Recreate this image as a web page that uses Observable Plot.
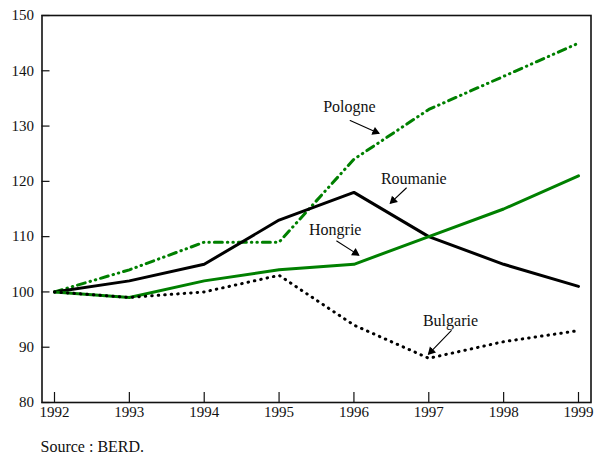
<!DOCTYPE html>
<html><head><meta charset="utf-8">
<script src="https://cdn.jsdelivr.net/npm/d3@7"></script>
<script src="https://cdn.jsdelivr.net/npm/@observablehq/plot@0.6"></script>
<style>
body{margin:0;background:#fff}
svg{display:block}
svg, svg text, svg g{font-family:'Liberation Serif','DejaVu Serif','Times New Roman',serif !important;}
</style>
</head><body><div id="chart"></div>
<script>
const years = [1992, 1993, 1994, 1995, 1996, 1997, 1998, 1999];
const pologne  = [100, 104, 109, 109, 124, 133, 139, 145];
const roumanie = [100, 102, 105, 113, 118, 110, 105, 101];
const hongrie  = [100,  99, 102, 104, 105, 110, 115, 121];
const bulgarie = [100,  99, 100, 103,  94,  88,  91,  93];
const yTicks = [80, 90, 100, 110, 120, 130, 140, 150];
const caption = "Source : BERD.";

const labelNames = ["Pologne", "Roumanie", "Hongrie", "Bulgarie"];
const labelX = [1995.94, 1996.80, 1995.75, 1997.29];
const labelY = [133.4, 120.4, 111.2, 94.8];
const arrowX1 = [1995.95, 1996.70, 1995.77, 1997.30];
const arrowY1 = [131.0, 118.8, 109.2, 93.0];
const arrowX2 = [1996.33, 1996.49, 1996.06, 1997.00];
const arrowY2 = [128.7, 116.1, 106.7, 88.8];

const W = 594, H = 454, mT = 15, mB = 52, mL = 41.5, mR = 3.5;
const plotW = W - mL - mR, plotH = H - mT - mB;
const xDomain = [1991.833, 1999.167], yDomain = [80, 150];
const kx = plotW / (xDomain[1] - xDomain[0]);
const ky = plotH / (yDomain[1] - yDomain[0]);
const green = "#008000";
const serif = "'Liberation Serif', 'DejaVu Serif', serif";

const series = (vals) => years.map((y, i) => ({year: y, value: vals[i]}));
const labels = labelNames.map((n, i) => ({name: n, x: labelX[i], y: labelY[i]}));
const arrows = labelNames.map((n, i) => ({x1: arrowX1[i], y1: arrowY1[i], x2: arrowX2[i], y2: arrowY2[i]}));
// filled arrow heads: triangle placed just behind each tip, rotated along the arrow
const heads = arrows.map(a => {
  const dx = (a.x2 - a.x1) * kx, dy = -(a.y2 - a.y1) * ky;
  const len = Math.hypot(dx, dy), back = 3.5;
  return {
    x: a.x2 - (dx / len) * back / kx,
    y: a.y2 + (dy / len) * back / ky,
    angle: Math.atan2(dx, -dy) * 180 / Math.PI
  };
});

const chart = Plot.plot({
  width: W, height: H,
  marginTop: mT, marginBottom: mB, marginLeft: mL, marginRight: mR,
  style: {fontFamily: serif, fontSize: "15px", background: "white", color: "#111"},
  x: {domain: xDomain},
  y: {domain: yDomain},
  marks: [
    Plot.axisY(yTicks, {tickSize: 0, tickPadding: 8, tickFormat: d => d, label: null, fontSize: 15, fontFamily: serif}),
    Plot.axisX(years, {tickSize: 0, tickPadding: 4, tickFormat: d => String(d), label: null, fontSize: 15, fontFamily: serif}),
    Plot.tickY(yTicks, {y: d => d, insetRight: plotW - 8, stroke: "#111", strokeWidth: 1.2}),
    Plot.tickX(years, {x: d => d, insetTop: plotH - 10, stroke: "#111", strokeWidth: 1.2}),
    Plot.line(series(pologne), {x: "year", y: "value", stroke: green, strokeWidth: 3, strokeDasharray: "8,5,0.5,5,0.5,5", strokeLinecap: "round"}),
    Plot.line(series(roumanie), {x: "year", y: "value", stroke: "#000", strokeWidth: 3}),
    Plot.line(series(hongrie), {x: "year", y: "value", stroke: green, strokeWidth: 3}),
    Plot.line(series(bulgarie), {x: "year", y: "value", stroke: "#000", strokeWidth: 3, strokeDasharray: "0.5,6", strokeLinecap: "round"}),
    Plot.arrow(arrows, {x1: "x1", y1: "y1", x2: "x2", y2: "y2", stroke: "#000", strokeWidth: 1.1, headLength: 8, headAngle: 35, insetStart: 0, insetEnd: 0}),
    Plot.dot(heads, {x: "x", y: "y", rotate: "angle", symbol: "triangle", r: 3.2, fill: "#000", stroke: "none"}),
    Plot.text(labels, {x: "x", y: "y", text: "name", fontSize: 16, fontFamily: serif, fill: "#111"}),
    Plot.frame({stroke: "#111", strokeWidth: 1.6}),
    Plot.text([caption], {text: d => d, frameAnchor: "bottom-left", textAnchor: "start", lineAnchor: "top", dx: -1.5, dy: 38, fontSize: 16, fontFamily: serif, fill: "#111"})
  ]
});
document.getElementById("chart").append(chart);
</script>
</body></html>
